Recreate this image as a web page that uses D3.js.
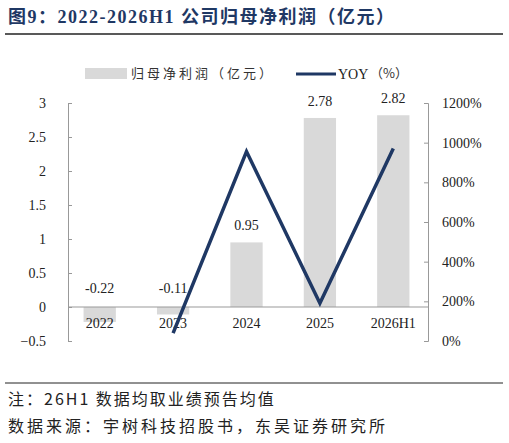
<!DOCTYPE html>
<html><head><meta charset="utf-8">
<script src="https://cdn.jsdelivr.net/npm/d3@7"></script>
<style>body{margin:0;background:#fff;font-family:"Liberation Serif","Noto Sans CJK SC",serif;}</style>
</head><body><div id="chart"></div>
<script>
// data
const years = ["2022", "2023", "2024", "2025", "2026H1"];
const profit = [-0.22, -0.11, 0.95, 2.78, 2.82];
const yoy = [null, 40, 955, 190, 970];
const leftTicks = [-0.5, 0, 0.5, 1, 1.5, 2, 2.5, 3];
const rightTicks = [0, 200, 400, 600, 800, 1000, 1200];

const W = 509, H = 443;
const svg = d3.select("#chart").append("svg").attr("width", W).attr("height", H);
const cjk = "'Noto Sans CJK SC',sans-serif";

// title
svg.append("text").attr("x", 8).attr("y", 23)
  .style("font-size", "18px").style("font-weight", "bold").style("fill", "#1f3864")
  .style("letter-spacing", "1.5px")
  .style("font-family", "'Liberation Serif','Noto Sans CJK SC',serif")
  .text("图9：2022-2026H1 公司归母净利润（亿元）");
svg.append("line").attr("x1", 5).attr("x2", 503).attr("y1", 34).attr("y2", 34)
  .attr("stroke", "#222").attr("stroke-width", 1.5);

const x = d3.scaleBand().domain(years).range([63, 430]).paddingInner(0.56).paddingOuter(0.28);
const y = d3.scaleLinear().domain([-0.5, 3]).range([341, 103]);
const y2 = d3.scaleLinear().domain([0, 1200]).range([341, 103]);

// legend
svg.append("rect").attr("x", 85).attr("y", 68).attr("width", 42).attr("height", 11).attr("fill", "#d9d9d9");
svg.append("text").attr("x", 131).attr("y", 78).style("font-size", "13px").style("letter-spacing", "3px").style("font-family", cjk).style("fill", "#333").text("归母净利润（亿元）");
svg.append("line").attr("x1", 296).attr("x2", 336).attr("y1", 74).attr("y2", 74).attr("stroke", "#1f3864").attr("stroke-width", 3);
svg.append("text").attr("x", 338).attr("y", 79).style("font-size", "14px").style("fill", "#222").text("YOY");
svg.append("text").attr("x", 370).attr("y", 78).style("font-size", "13px").style("font-family", cjk).style("fill", "#333").text("（%）");

// axes
const ax = svg.append("g").attr("transform", "translate(68,0)")
  .call(d3.axisRight(y).tickValues(leftTicks).tickSize(4).tickFormat(d3.format("")));
ax.selectAll("text").attr("x", -22).style("text-anchor", "end");
const ax2 = svg.append("g").attr("transform", "translate(428,0)")
  .call(d3.axisLeft(y2).tickValues(rightTicks).tickSize(4).tickFormat(d => d + "%"));
ax2.selectAll("text").attr("x", 14).style("text-anchor", "start");
[ax, ax2].forEach(g => {
  g.select(".domain").attr("stroke", "#999");
  g.selectAll(".tick line").attr("stroke", "#999");
  g.selectAll("text").style("font-size", "14px").style("font-family", "'Liberation Serif',serif").style("fill", "#222");
});

// bars
svg.selectAll(".bar").data(profit).enter().append("rect")
  .attr("x", (d, i) => x(years[i])).attr("width", x.bandwidth())
  .attr("y", d => y(Math.max(0, d))).attr("height", d => Math.abs(y(d) - y(0)))
  .attr("fill", "#d9d9d9");

// zero line + category labels
svg.append("line").attr("x1", 68).attr("x2", 428).attr("y1", y(0)).attr("y2", y(0)).attr("stroke", "#999");
svg.selectAll(".cat").data(years).enter().append("text")
  .attr("x", d => x(d) + x.bandwidth() / 2).attr("y", y(0) + 21).attr("text-anchor", "middle")
  .style("font-size", "14px").style("fill", "#222").text(d => d);

// value labels
svg.selectAll(".val").data(profit).enter().append("text")
  .attr("x", (d, i) => x(years[i]) + x.bandwidth() / 2)
  .attr("y", d => d < 0 ? y(0) - 14 : y(d) - 12).attr("text-anchor", "middle")
  .style("font-size", "14px").style("fill", "#222").text(d => d.toFixed(2));

// YOY line
const line = d3.line().defined(d => d.v !== null)
  .x(d => x(d.c) + x.bandwidth() / 2).y(d => y2(d.v));
svg.append("path").datum(years.map((c, i) => ({ c, v: yoy[i] })))
  .attr("d", line).attr("fill", "none").attr("stroke", "#1f3864").attr("stroke-width", 3.5);

// footer
svg.append("line").attr("x1", 5).attr("x2", 503).attr("y1", 383).attr("y2", 383).attr("stroke", "#222").attr("stroke-width", 1);
svg.append("text").attr("x", 8).attr("y", 405).style("font-size", "16px").style("letter-spacing", "2px").style("font-family", cjk).style("fill", "#222").text("注：26H1 数据均取业绩预告均值");
svg.append("text").attr("x", 8).attr("y", 432).style("font-size", "16px").style("letter-spacing", "3px").style("font-family", cjk).style("fill", "#222").text("数据来源：宇树科技招股书，东吴证券研究所");
</script></body></html>
